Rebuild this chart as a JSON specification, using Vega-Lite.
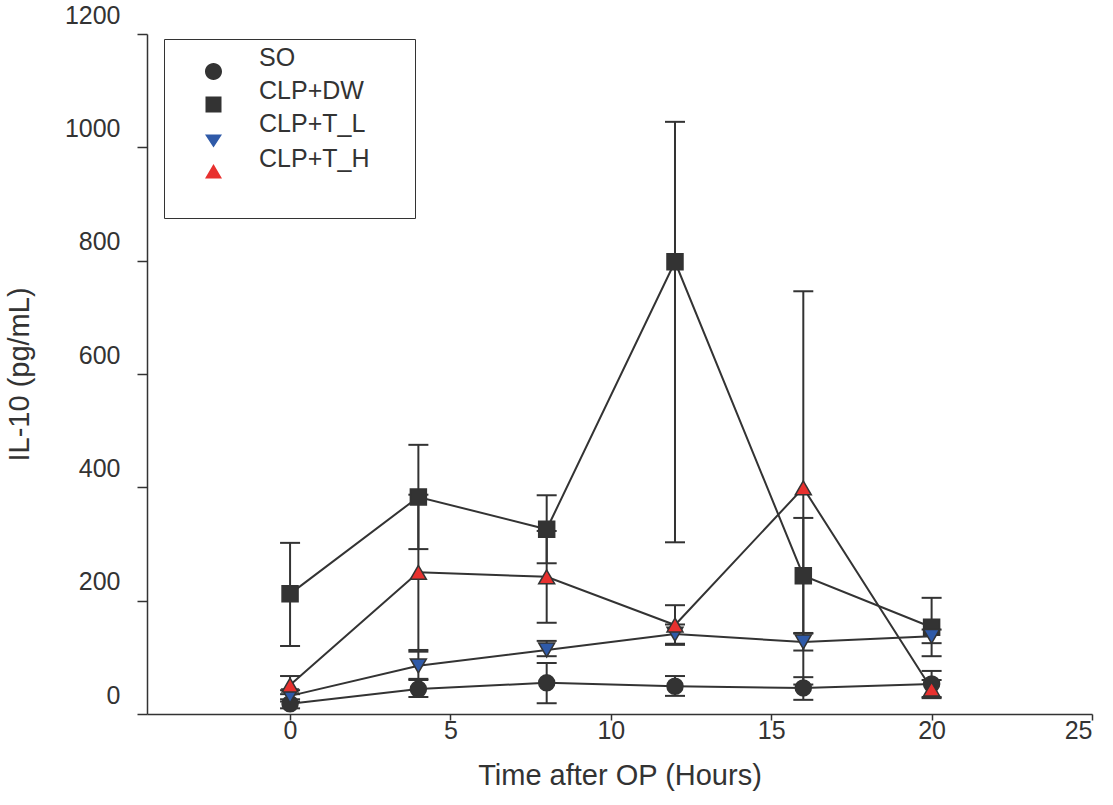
{
  "$schema": "https://vega.github.io/schema/vega-lite/v6.json",
  "width": 945,
  "height": 680,
  "padding": {"left": 5, "top": 3, "right": 5, "bottom": 5},
  "background": "white",
  "config": {
    "font": "Liberation Sans",
    "view": {"stroke": null},
    "axis": {
      "grid": false,
      "domainColor": "#333333",
      "domainWidth": 1.5,
      "tickColor": "#333333",
      "tickWidth": 1.5,
      "labelColor": "#333333",
      "labelFontSize": 25,
      "titleColor": "#333333",
      "titleFontSize": 29,
      "titleFontWeight": "normal"
    },
    "axisX": {"tickSize": 6, "labelPadding": -2, "titlePadding": 18},
    "axisY": {"tickSize": 10, "labelOffset": -19, "labelPadding": 17, "titlePadding": 30, "format": "d"},
    "legend": {
      "orient": "none",
      "legendX": 17,
      "legendY": 5,
      "padding": 20,
      "strokeColor": "#333333",
      "fillColor": "white",
      "symbolSize": 400,
      "symbolOffset": 17,
      "symbolOpacity": 1,
      "symbolStrokeColor": "#333333",
      "symbolStrokeWidth": 1.5,
      "labelFontSize": 25,
      "labelColor": "#333333",
      "labelOffset": 33,
      "labelBaseline": "line-bottom",
      "rowPadding": -5
    }
  },
  "data": {
    "values": [
      {"group": "SO", "time": 0, "mean": 18, "lo": 10, "hi": 26},
      {"group": "SO", "time": 4, "mean": 44, "lo": 30, "hi": 62},
      {"group": "SO", "time": 8, "mean": 55, "lo": 19, "hi": 90},
      {"group": "SO", "time": 12, "mean": 49, "lo": 32, "hi": 67},
      {"group": "SO", "time": 16, "mean": 46, "lo": 25, "hi": 65},
      {"group": "SO", "time": 20, "mean": 53, "lo": 30, "hi": 76},
      {"group": "CLP+DW", "time": 0, "mean": 212, "lo": 120, "hi": 302},
      {"group": "CLP+DW", "time": 4, "mean": 383, "lo": 291, "hi": 475},
      {"group": "CLP+DW", "time": 8, "mean": 326, "lo": 266, "hi": 386},
      {"group": "CLP+DW", "time": 12, "mean": 798, "lo": 303, "hi": 1045},
      {"group": "CLP+DW", "time": 16, "mean": 244, "lo": 143, "hi": 346},
      {"group": "CLP+DW", "time": 20, "mean": 153, "lo": 102, "hi": 205},
      {"group": "CLP+T_L", "time": 0, "mean": 32, "lo": 22, "hi": 42},
      {"group": "CLP+T_L", "time": 4, "mean": 85, "lo": 60, "hi": 110},
      {"group": "CLP+T_L", "time": 8, "mean": 113, "lo": 102, "hi": 129},
      {"group": "CLP+T_L", "time": 12, "mean": 141, "lo": 124, "hi": 158},
      {"group": "CLP+T_L", "time": 16, "mean": 127, "lo": 112, "hi": 142},
      {"group": "CLP+T_L", "time": 20, "mean": 137, "lo": 125, "hi": 149},
      {"group": "CLP+T_H", "time": 0, "mean": 51, "lo": 35, "hi": 67},
      {"group": "CLP+T_H", "time": 4, "mean": 250, "lo": 113, "hi": 387},
      {"group": "CLP+T_H", "time": 8, "mean": 242, "lo": 161, "hi": 323},
      {"group": "CLP+T_H", "time": 12, "mean": 157, "lo": 122, "hi": 192},
      {"group": "CLP+T_H", "time": 16, "mean": 399, "lo": 52, "hi": 746},
      {"group": "CLP+T_H", "time": 20, "mean": 44, "lo": 28, "hi": 60}
    ]
  },
  "encoding": {
    "x": {
      "field": "time",
      "type": "quantitative",
      "scale": {"domain": [-4.46, 25], "nice": false, "zero": false},
      "axis": {"values": [0, 5, 10, 15, 20, 25], "title": "Time after OP (Hours)"}
    }
  },
  "layer": [
    {
      "mark": {"type": "rule", "stroke": "#333333", "strokeWidth": 2},
      "encoding": {
        "y": {"field": "lo", "type": "quantitative", "title": "IL-10 (pg/mL)",
              "scale": {"domain": [0, 1200], "nice": false},
              "axis": {"values": [0, 200, 400, 600, 800, 1000, 1200]}},
        "y2": {"field": "hi"}
      }
    },
    {
      "mark": {"type": "tick", "orient": "horizontal", "size": 20, "thickness": 2, "color": "#333333", "opacity": 1},
      "encoding": {"y": {"field": "lo", "type": "quantitative", "title": "IL-10 (pg/mL)"}}
    },
    {
      "mark": {"type": "tick", "orient": "horizontal", "size": 20, "thickness": 2, "color": "#333333", "opacity": 1},
      "encoding": {"y": {"field": "hi", "type": "quantitative", "title": "IL-10 (pg/mL)"}}
    },
    {
      "mark": {"type": "line", "stroke": "#333333", "strokeWidth": 2},
      "encoding": {
        "y": {"field": "mean", "type": "quantitative", "title": "IL-10 (pg/mL)"},
        "detail": {"field": "group", "type": "nominal"},
        "order": {"field": "time"}
      }
    },
    {
      "mark": {"type": "point", "filled": true, "size": 256, "stroke": "#333333", "strokeWidth": 1.5, "opacity": 1},
      "encoding": {
        "y": {"field": "mean", "type": "quantitative", "title": "IL-10 (pg/mL)"},
        "shape": {
          "condition": [
            {"test": "datum.group === 'SO'", "value": "circle"},
            {"test": "datum.group === 'CLP+DW'", "value": "square"},
            {"test": "datum.group === 'CLP+T_L'", "value": "triangle-down"}
          ],
          "value": "triangle-up"
        },
        "fill": {
          "condition": [
            {"test": "datum.group === 'CLP+T_L'", "value": "#2f5aa8"},
            {"test": "datum.group === 'CLP+T_H'", "value": "#e8312f"}
          ],
          "value": "#333333"
        }
      }
    },
    {
      "mark": {"type": "point", "filled": false, "size": 256, "stroke": "#333333", "strokeWidth": 1.5, "opacity": 0},
      "encoding": {
        "y": {"field": "mean", "type": "quantitative", "title": "IL-10 (pg/mL)"},
        "shape": {
          "field": "group", "type": "nominal",
          "scale": {
            "domain": ["SO", "CLP+DW", "CLP+T_L", "CLP+T_H"],
            "range": [
              "M-3,0H-0.85M0.85,0H3M-0.85,0A0.85,0.85,0,1,0,0.85,0A0.85,0.85,0,1,0,-0.85,0ZM17.8,0L17.8,0M-3.9,0L-3.9,0M0,-2.6L0,-2.6",
              "M-3,0H-0.8M0.8,0H3M-0.8,-0.8H0.8V0.8H-0.8ZM17.8,0L17.8,0M-3.9,0L-3.9,0",
              "M-3,0H-0.65M0.65,0H3M-0.85,-0.3H0.85L0,1ZM17.8,0L17.8,0M-3.9,0L-3.9,0",
              "M-3,0H-0.5M0.5,0H3M0,-0.85L0.85,0.6H-0.85ZM17.8,0L17.8,0M-3.9,0L-3.9,0M0,2.2L0,2.2"
            ]
          },
          "legend": {"title": null}
        },
        "fill": {
          "field": "group", "type": "nominal",
          "scale": {"domain": ["SO", "CLP+DW", "CLP+T_L", "CLP+T_H"], "range": ["#333333", "#333333", "#2f5aa8", "#e8312f"]},
          "legend": {"title": null}
        }
      }
    }
  ]
}
